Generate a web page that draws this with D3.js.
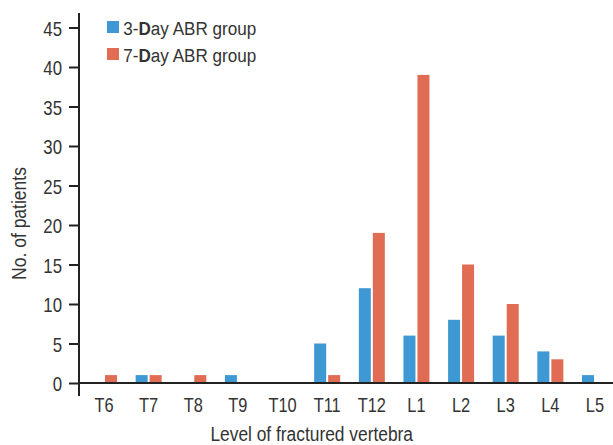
<!DOCTYPE html>
<html>
<head>
<meta charset="utf-8">
<script src="https://cdn.jsdelivr.net/npm/d3@7"></script>
<style>
  body { margin: 0; background: #fff; }
  text { font-family: "Liberation Sans", Arial, sans-serif; fill: #333; }
</style>
</head>
<body>
<script>
// data
var levels = ["T6", "T7", "T8", "T9", "T10", "T11", "T12", "L1", "L2", "L3", "L4", "L5"];
var day3 = [0, 1, 0, 1, 0, 5, 12, 6, 8, 6, 4, 1];
var day7 = [1, 1, 1, 0, 0, 1, 19, 39, 15, 10, 3, 0];
var yTicks = [0, 5, 10, 15, 20, 25, 30, 35, 40, 45];
var seriesNames = ["3-Day ABR group", "7-Day ABR group"];
var colors = ["#3d98d3", "#e06c53"];

var width = 613,
    height = 445;

var svg = d3.select("body").append("svg")
    .attr("width", width)
    .attr("height", height);

// squeeze text horizontally, the original uses a condensed face
function condense(sel, k) {
    sel.each(function() {
        var len = this.getComputedTextLength();
        d3.select(this)
            .attr("textLength", len * k)
            .attr("lengthAdjust", "spacingAndGlyphs");
    });
}

var x = d3.scaleBand()
    .domain(levels)
    .range([81.7, 617.3]);

var y = d3.scaleLinear()
    .domain([0, 45])
    .range([383, 27.5]);

var barW = 12;

// bars
var groups = svg.selectAll("g.grp")
    .data(levels)
    .enter().append("g")
    .attr("class", "grp");

groups.append("rect")
    .attr("x", function(d) { return x(d) + x.bandwidth() / 2 - barW - 1; })
    .attr("y", function(d, i) { return y(day3[i]); })
    .attr("width", barW)
    .attr("height", function(d, i) { return y(0) - y(day3[i]); })
    .attr("fill", colors[0]);

groups.append("rect")
    .attr("x", function(d) { return x(d) + x.bandwidth() / 2 + 1; })
    .attr("y", function(d, i) { return y(day7[i]); })
    .attr("width", barW)
    .attr("height", function(d, i) { return y(0) - y(day7[i]); })
    .attr("fill", colors[1]);

// y axis
var yAxis = svg.append("g")
    .attr("transform", "translate(79,0)")
    .call(d3.axisLeft(y).tickValues(yTicks).tickSize(10).tickPadding(7));
yAxis.select(".domain").remove();
yAxis.selectAll(".tick line").attr("stroke", "#222").attr("stroke-width", 2);
yAxis.selectAll(".tick text")
    .style("font-size", "21px")
    .attr("fill", "#333")
    .attr("dy", "0.36em")
    .call(condense, 0.8);

svg.append("line")
    .attr("x1", 79).attr("x2", 79)
    .attr("y1", 13).attr("y2", 396)
    .attr("stroke", "#222").attr("stroke-width", 2);

// x axis
var xAxis = svg.append("g")
    .attr("transform", "translate(0,383)")
    .call(d3.axisBottom(x).tickSize(0));
xAxis.select(".domain").remove();
xAxis.selectAll(".tick text")
    .style("font-size", "21px")
    .attr("fill", "#333")
    .attr("y", 28.7)
    .attr("dy", 0)
    .call(condense, 0.78);

svg.append("line")
    .attr("x1", 79).attr("x2", width)
    .attr("y1", 383).attr("y2", 383)
    .attr("stroke", "#222").attr("stroke-width", 2);

// axis titles
svg.append("text")
    .attr("x", 311.7).attr("y", 440.5)
    .attr("text-anchor", "middle")
    .style("font-size", "19.5px")
    .text("Level of fractured vertebra")
    .call(condense, 0.89);

svg.append("text")
    .attr("transform", "translate(26,223.5) rotate(-90)")
    .attr("text-anchor", "middle")
    .style("font-size", "20px")
    .text("No. of patients")
    .call(condense, 0.875);

// legend
var legend = svg.selectAll("g.leg")
    .data(seriesNames)
    .enter().append("g")
    .attr("class", "leg")
    .attr("transform", function(d, i) { return "translate(107," + (21 + i * 27) + ")"; });

legend.append("rect")
    .attr("width", 12).attr("height", 12)
    .attr("fill", function(d, i) { return colors[i]; });

legend.append("text")
    .style("font-size", "18.6px")
    .each(function(d) {
        var t = d3.select(this);
        t.append("tspan").text(d.slice(0, 2));
        t.append("tspan").attr("font-weight", "bold").text("D");
        t.append("tspan").text(d.slice(3));
        var w = this.getBBox().width;
        t.attr("transform", "translate(16.3,14) scale(" + (133 / w) + ",1)");
    });
</script>
</body>
</html>
